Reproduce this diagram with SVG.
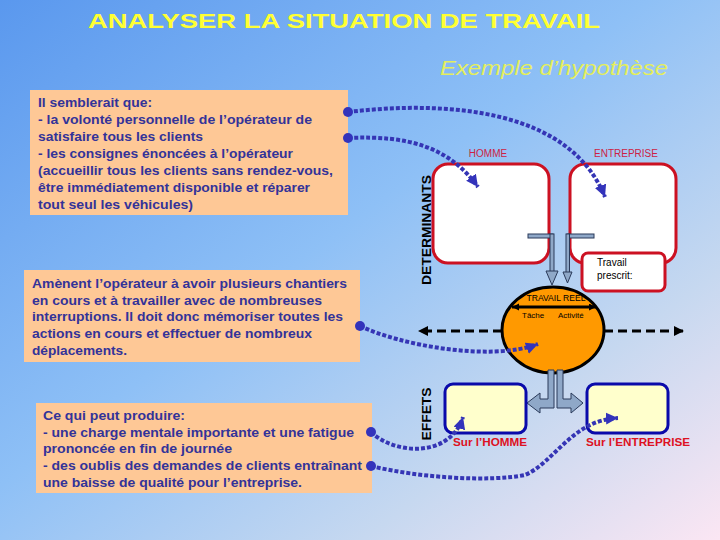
<svg xmlns="http://www.w3.org/2000/svg" width="720" height="540" viewBox="0 0 720 540">
<defs>
<linearGradient id="bg" x1="0" y1="0" x2="1" y2="1">
<stop offset="0" stop-color="#5a98ee"/>
<stop offset="0.45" stop-color="#8ec0f6"/>
<stop offset="0.75" stop-color="#c6d8f0"/>
<stop offset="1" stop-color="#fbe6f3"/>
</linearGradient>
<marker id="ba" markerUnits="userSpaceOnUse" markerWidth="14" markerHeight="14" refX="12" refY="6" orient="auto">
<path d="M0,0 L12,6 L0,12 z" fill="#3333bb"/>
</marker>
<marker id="ka" markerUnits="userSpaceOnUse" markerWidth="12" markerHeight="12" refX="10" refY="5" orient="auto">
<path d="M0,0 L10,5 L0,10 z" fill="#000"/>
</marker>
<marker id="ks" markerUnits="userSpaceOnUse" markerWidth="8" markerHeight="8" refX="7" refY="3.5" orient="auto-start-reverse">
<path d="M0,0 L7,3.5 L0,7 z" fill="#000"/>
</marker>
<style>
.box{fill:#fec896}
.bt{font-family:"Liberation Sans",Arial,sans-serif;font-weight:bold;font-size:13px;fill:#333399}
.lbl{font-family:"Liberation Sans",Arial,sans-serif;font-size:10px;fill:#cc2244}
.red{fill:#fff;stroke:#cc1122;stroke-width:3}
.blu{fill:#ffffcc;stroke:#0a0aaa;stroke-width:3}
.dot{fill:none;stroke:#3535b5;stroke-width:4;stroke-dasharray:4 2;marker-end:url(#ba)}
.pt{fill:#3333bb}
.gray{fill:#8fa8c8;stroke:#2a3a5a;stroke-width:1}
.vt{font-family:"Liberation Sans",Arial,sans-serif;font-weight:bold;font-size:12.5px;fill:#000}
.sur{font-family:"Liberation Sans",Arial,sans-serif;font-weight:bold;font-size:11px;fill:#dd1122}
.sm{font-family:"Liberation Sans",Arial,sans-serif;font-size:9px;fill:#000}
</style>
</defs>
<rect width="720" height="540" fill="url(#bg)"/>
<text x="88" y="28" textLength="512" lengthAdjust="spacingAndGlyphs" font-family="'Liberation Sans',Arial,sans-serif" font-weight="bold" font-size="21" fill="#ffff33">ANALYSER LA SITUATION DE TRAVAIL</text>
<text x="440" y="75" textLength="228" lengthAdjust="spacingAndGlyphs" font-family="'Liberation Sans',Arial,sans-serif" font-style="italic" font-size="21" fill="#e4ee5c">Exemple d’hypothèse</text>

<g id="hypothese">
<rect class="box" x="30" y="90" width="318" height="125"/>
<text class="bt" x="38" y="107" textLength="114" lengthAdjust="spacingAndGlyphs">Il semblerait que:</text>
<text class="bt" x="38" y="124" textLength="274" lengthAdjust="spacingAndGlyphs">- la volonté personnelle de l’opérateur de</text>
<text class="bt" x="38" y="141" textLength="165" lengthAdjust="spacingAndGlyphs">satisfaire tous les clients</text>
<text class="bt" x="38" y="158" textLength="255" lengthAdjust="spacingAndGlyphs">- les consignes énoncées à l’opérateur</text>
<text class="bt" x="38" y="175" textLength="295" lengthAdjust="spacingAndGlyphs">(accueillir tous les clients sans rendez-vous,</text>
<text class="bt" x="38" y="192" textLength="272" lengthAdjust="spacingAndGlyphs">être immédiatement disponible et réparer</text>
<text class="bt" x="38" y="209" textLength="155" lengthAdjust="spacingAndGlyphs">tout seul les véhicules)</text>
</g>

<g id="consequences">
<rect class="box" x="24" y="270" width="336" height="92"/>
<text class="bt" x="32" y="288" textLength="315" lengthAdjust="spacingAndGlyphs">Amènent l’opérateur à avoir plusieurs chantiers</text>
<text class="bt" x="32" y="305" textLength="290" lengthAdjust="spacingAndGlyphs">en cours et à travailler avec de nombreuses</text>
<text class="bt" x="32" y="321" textLength="311" lengthAdjust="spacingAndGlyphs">interruptions. Il doit donc mémoriser toutes les</text>
<text class="bt" x="32" y="338" textLength="280" lengthAdjust="spacingAndGlyphs">actions en cours et effectuer de nombreux</text>
<text class="bt" x="32" y="355" textLength="95" lengthAdjust="spacingAndGlyphs">déplacements.</text>
</g>

<g id="effets-texte">
<rect class="box" x="36" y="403" width="336" height="90"/>
<text class="bt" x="43" y="420" textLength="142" lengthAdjust="spacingAndGlyphs">Ce qui peut produire:</text>
<text class="bt" x="43" y="437" textLength="311" lengthAdjust="spacingAndGlyphs">- une charge mentale importante et une fatigue</text>
<text class="bt" x="43" y="453" textLength="189" lengthAdjust="spacingAndGlyphs">prononcée en fin de journée</text>
<text class="bt" x="43" y="470" textLength="319" lengthAdjust="spacingAndGlyphs">- des oublis des demandes de clients entraînant</text>
<text class="bt" x="43" y="487" textLength="259" lengthAdjust="spacingAndGlyphs">une baisse de qualité pour l’entreprise.</text>
</g>

<g id="determinants-label">
<text class="vt" transform="translate(431,230) rotate(-90)" text-anchor="middle" textLength="110" lengthAdjust="spacingAndGlyphs">DETERMINANTS</text>
</g>
<g id="effets-label">
<text class="vt" transform="translate(431,414) rotate(-90)" text-anchor="middle" textLength="53" lengthAdjust="spacingAndGlyphs">EFFETS</text>
</g>

<g id="homme">
<rect class="red" x="433" y="164" width="116" height="99" rx="15"/>
<text class="lbl" x="488" y="157" text-anchor="middle">HOMME</text>
</g>

<g id="entreprise">
<rect class="red" x="570" y="164" width="106" height="99" rx="15"/>
<text class="lbl" x="626" y="157" text-anchor="middle">ENTREPRISE</text>
</g>

<g id="travail-prescrit">
<rect class="red" x="582" y="253" width="83" height="38" rx="6"/>
<text font-family="'Liberation Sans',Arial,sans-serif" font-size="10" fill="#000" x="597" y="266">Travail</text>
<text font-family="'Liberation Sans',Arial,sans-serif" font-size="10" fill="#000" x="597" y="279">prescrit:</text>
</g>

<g id="fleches-entree">
<rect class="gray" x="528" y="234" width="25" height="4"/>
<rect class="gray" x="550" y="234" width="4" height="38"/>
<polygon class="gray" points="546,271 558,271 552,285"/>
<rect class="gray" x="567" y="234" width="27" height="4"/>
<rect class="gray" x="566" y="234" width="3.5" height="39"/>
<polygon class="gray" points="563,272 572,272 567.5,283"/>
</g>

<g id="axe">
<line x1="502" y1="331" x2="418" y2="331" stroke="#000" stroke-width="3" stroke-dasharray="9 5" marker-end="url(#ka)"/>
<line x1="604" y1="331" x2="684" y2="331" stroke="#000" stroke-width="3" stroke-dasharray="9 5" marker-end="url(#ka)"/>
</g>

<g id="travail-reel">
<ellipse cx="553" cy="330" rx="51" ry="43" fill="#ff9900" stroke="#000" stroke-width="3"/>
<line x1="512" y1="307" x2="596" y2="307" stroke="#000" stroke-width="3" marker-start="url(#ks)" marker-end="url(#ks)"/>
<text class="sm" x="556" y="301" text-anchor="middle" textLength="59" lengthAdjust="spacingAndGlyphs">TRAVAIL REEL</text>
<text x="522" y="318" font-family="'Liberation Sans',Arial,sans-serif" font-size="8" fill="#000">Tâche</text>
<text x="558" y="318" font-family="'Liberation Sans',Arial,sans-serif" font-size="8" fill="#000">Activité</text>
</g>

<g id="fleches-sortie">
<polygon class="gray" points="548,370 554,370 554,408 540,408 540,413 527,403 540,393 540,399 548,399"/>
<polygon class="gray" points="557,370 563,370 563,399 571,399 571,393 583,403 571,413 571,408 557,408"/>
</g>

<g id="sur-homme">
<rect class="blu" x="445" y="384" width="81" height="49" rx="8"/>
<text class="sur" x="490" y="446" text-anchor="middle" textLength="74" lengthAdjust="spacingAndGlyphs">Sur l’HOMME</text>
</g>

<g id="sur-entreprise">
<rect class="blu" x="587" y="384" width="81" height="49" rx="8"/>
<text class="sur" x="638" y="446" text-anchor="middle" textLength="104" lengthAdjust="spacingAndGlyphs">Sur l’ENTREPRISE</text>
</g>

<g id="connecteurs">
<path class="dot" d="M348,112 C 450,100 570,110 605,197"/>
<path class="dot" d="M348,138 C 410,135 450,148 478,187"/>
<path class="dot" d="M360,326 C 400,345 490,362 538,344"/>
<path class="dot" d="M371,432 C 395,455 450,458 463,417"/>
<path class="dot" d="M371,466 C 420,478 490,482 525,475 C 555,462 572,420 618,418"/>
<circle class="pt" cx="348" cy="112" r="5"/>
<circle class="pt" cx="348" cy="138" r="5"/>
<circle class="pt" cx="360" cy="326" r="5"/>
<circle class="pt" cx="371" cy="432" r="5"/>
<circle class="pt" cx="371" cy="466" r="5"/>
</g>
</svg>
